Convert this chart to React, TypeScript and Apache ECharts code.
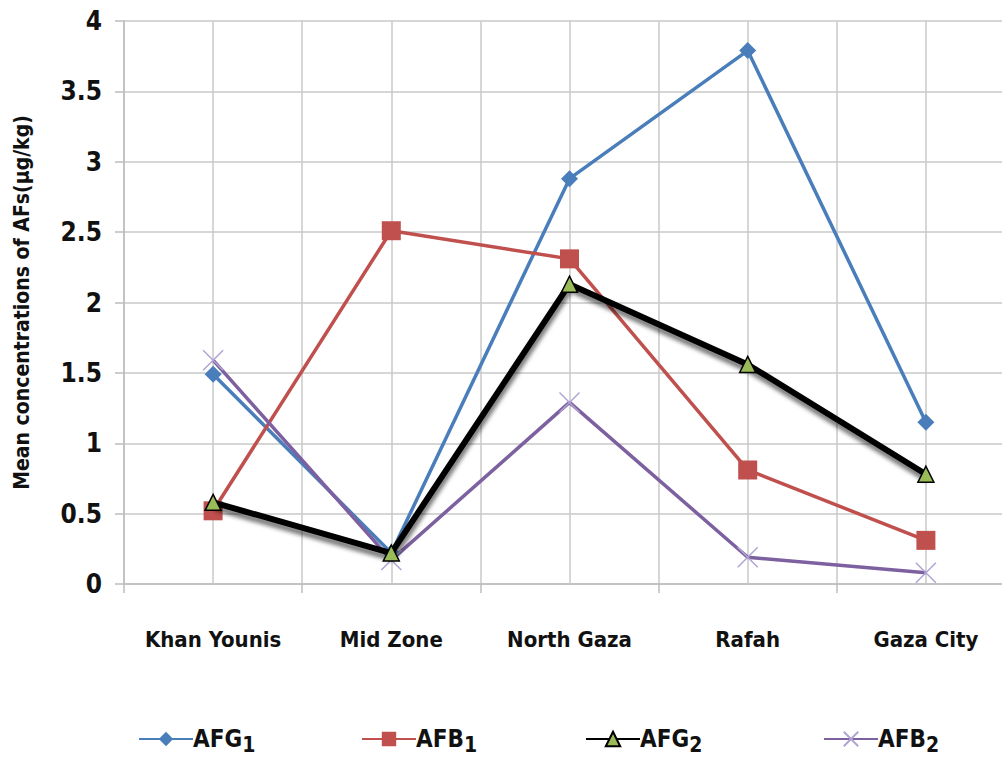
import React, { useEffect, useRef } from "react";
import * as echarts from "echarts";

const categories = ["Khan Younis", "Mid Zone", "North Gaza", "Rafah", "Gaza City"];
const afg1 = [1.49, 0.22, 2.88, 3.79, 1.15];
const afb1 = [0.52, 2.51, 2.31, 0.81, 0.31];
const afg2 = [0.58, 0.22, 2.13, 1.56, 0.78];
const afb2 = [1.59, 0.17, 1.29, 0.19, 0.08];
const yTicks = [0, 0.5, 1, 1.5, 2, 2.5, 3, 3.5, 4];

const FONT = "'DejaVu Sans Condensed', 'Open Sans', sans-serif";

export default function App() {
  const ref = useRef<HTMLDivElement>(null);
  useEffect(() => {
    document.body.style.margin = "0";
    const chart = echarts.init(ref.current!, undefined, { renderer: "svg" });
    const subRich = {
      a: { fontFamily: FONT, fontWeight: "bold", fontSize: 24, color: "#111" },
      s: { fontFamily: FONT, fontWeight: "bold", fontSize: 21, color: "#111", padding: [12, 0, 0, 0] },
    };
    const fmt = (name: string) => `{a|${name.slice(0, 3)}}{s|${name.slice(3)}}`;
    const legendAt = (name: string, left: number) => ({
      data: [name],
      left,
      top: 722,
      itemWidth: 54,
      itemHeight: 18,
      itemGap: 0,
      formatter: fmt,
      textStyle: { rich: subRich, padding: [0, 0, 0, -5] },
    });
    chart.setOption({
      animation: false,
      backgroundColor: "#fff",
      grid: { left: 124, right: 5, top: 21, bottom: 761 - 584 },
      legend: [
        legendAt("AFG1", 133),
        legendAt("AFB1", 356),
        legendAt("AFG2", 580),
        legendAt("AFB2", 818),
      ],
      xAxis: {
        type: "category",
        data: categories,
        boundaryGap: true,
        axisLine: { lineStyle: { color: "#bdbdbd", width: 1.5 } },
        axisTick: { show: true, length: 9, lineStyle: { color: "#bdbdbd", width: 1.5 } },
        splitLine: { show: true, lineStyle: { color: "#c8c8c8", width: 1.5 } },
        axisLabel: {
          fontFamily: FONT,
          fontWeight: "bold",
          fontSize: 22,
          color: "#111",
          margin: 44,
        },
      },
      yAxis: {
        type: "value",
        min: 0,
        max: 4,
        interval: 0.5,
        name: "Mean concentrations of AFs(µg/kg)",
        nameLocation: "middle",
        nameGap: 92,
        nameTextStyle: { fontFamily: FONT, fontWeight: "bold", fontSize: 21, color: "#111" },
        axisLine: { show: true, lineStyle: { color: "#bdbdbd", width: 1.5 } },
        axisTick: { show: true, length: 9, lineStyle: { color: "#bdbdbd", width: 1.5 } },
        splitLine: { show: true, lineStyle: { color: "#c8c8c8", width: 1.5 } },
        axisLabel: {
          fontFamily: FONT,
          fontWeight: "bold",
          fontSize: 26,
          color: "#111",
          margin: 22,
          formatter: (v: number) => (yTicks.includes(v) ? String(v) : ""),
        },
      },
      series: [
        {
          name: "AFG1",
          type: "line",
          data: afg1,
          symbol: "diamond",
          symbolSize: 17,
          z: 3,
          lineStyle: { color: "#4a7ebb", width: 3.5 },
          itemStyle: { color: "#4a7ebb" },
          markLine: {
            silent: true,
            symbol: "none",
            label: { show: false },
            z: 1,
            lineStyle: { color: "#c8c8c8", width: 1.5, type: "solid" },
            data: categories.map((c) => ({ xAxis: c })),
          },
        },
        {
          name: "AFB1",
          type: "line",
          data: afb1,
          symbol: "rect",
          symbolSize: 19,
          z: 3,
          lineStyle: { color: "#c0504d", width: 3.5 },
          itemStyle: { color: "#c0504d" },
        },
        {
          name: "AFG2",
          type: "line",
          data: afg2,
          symbol: "triangle",
          symbolSize: 16,
          z: 4,
          lineStyle: {
            color: "#000",
            width: 6,
            shadowColor: "rgba(0,0,0,0.55)",
            shadowBlur: 4,
            shadowOffsetY: 5,
            shadowOffsetX: 1,
          },
          itemStyle: { color: "#9bbb59", borderColor: "#000", borderWidth: 1.5 },
        },
        {
          name: "AFB2",
          type: "line",
          data: afb2,
          symbol: "path://M0,0L10,10M10,0L0,10",
          symbolSize: 20,
          z: 3,
          lineStyle: { color: "#7d60a0", width: 3.5 },
          itemStyle: { color: "#7d60a0", borderColor: "#b0a4d4", borderWidth: 1.5 },
        },
      ],
    });
    return () => chart.dispose();
  }, []);
  return (
    <div
      ref={ref}
      style={{ position: "absolute", left: 0, top: 0, width: 1020, height: 761 }}
    />
  );
}
